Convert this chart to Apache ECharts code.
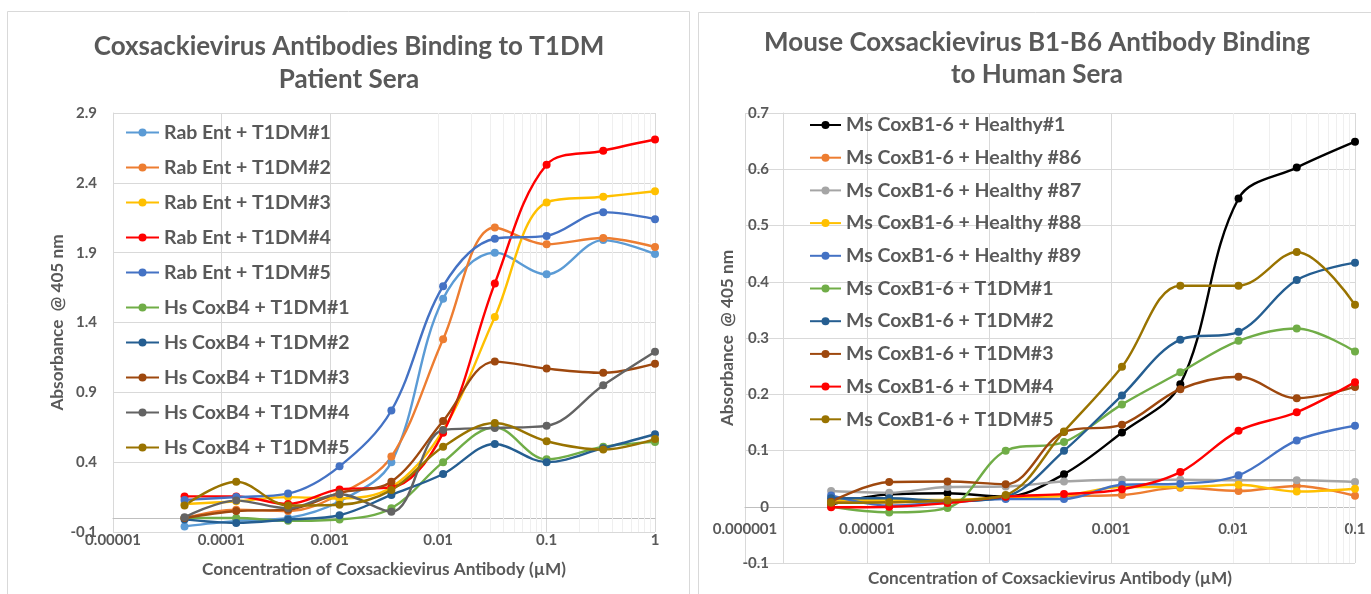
<!DOCTYPE html>
<html>
<head>
<meta charset="utf-8">
<script src="https://cdn.jsdelivr.net/npm/echarts@6/dist/echarts.min.js"></script>
<style>
  html, body { margin: 0; padding: 0; background: #fff; }
  #chart { width: 1371px; height: 594px; }
</style>
</head>
<body>
<div id="chart"></div>
<script>
// ---------- data ----------
const leftTitle1 = 'Coxsackievirus Antibodies Binding to T1DM';
const leftTitle2 = 'Patient Sera';
const rightTitle1 = 'Mouse Coxsackievirus B1-B6 Antibody Binding';
const rightTitle2 = 'to Human Sera';
const xAxisName = 'Concentration of Coxsackievirus Antibody (\u00b5M)';
const yAxisName = 'Absorbance  @ 405 nm';

const leftXTicks = ['0.00001', '0.0001', '0.001', '0.01', '0.1', '1'];
const rightXTicks = ['0.000001', '0.00001', '0.0001', '0.001', '0.01', '0.1'];

const leftConc = [0.0000457, 0.000137, 0.000412, 0.00123, 0.0037, 0.0111, 0.0333, 0.1, 0.333, 1];
const rightConc = [0.00000508, 0.0000152, 0.0000457, 0.000137, 0.000412, 0.00123, 0.0037, 0.0111, 0.0333, 0.1];

const leftNames = ['Rab Ent + T1DM#1', 'Rab Ent + T1DM#2', 'Rab Ent + T1DM#3', 'Rab Ent + T1DM#4', 'Rab Ent + T1DM#5',
  'Hs CoxB4 + T1DM#1', 'Hs CoxB4 + T1DM#2', 'Hs CoxB4 + T1DM#3', 'Hs CoxB4 + T1DM#4', 'Hs CoxB4 + T1DM#5'];
const leftColors = ['#5B9BD5', '#ED7D31', '#FFC000', '#FF0000', '#4472C4', '#70AD47', '#255E91', '#9E480E', '#636363', '#997300'];

const rabEnt1 = [-0.06, -0.02, 0.0, 0.12, 0.40, 1.57, 1.90, 1.745, 1.99, 1.89];
const rabEnt2 = [0.0, 0.06, 0.05, 0.17, 0.44, 1.28, 2.08, 1.96, 2.005, 1.94];
const rabEnt3 = [0.10, 0.12, 0.15, 0.14, 0.22, 0.63, 1.44, 2.26, 2.30, 2.34];
const rabEnt4 = [0.155, 0.155, 0.10, 0.205, 0.22, 0.61, 1.68, 2.53, 2.63, 2.71];
const rabEnt5 = [0.13, 0.15, 0.175, 0.37, 0.77, 1.66, 2.0, 2.02, 2.19, 2.14];
const hsCox1 = [0.0, 0.0, -0.02, -0.01, 0.07, 0.40, 0.65, 0.42, 0.51, 0.545];
const hsCox2 = [-0.01, -0.035, -0.01, 0.02, 0.165, 0.315, 0.53, 0.40, 0.50, 0.60];
const hsCox3 = [0.0, 0.05, 0.06, 0.18, 0.26, 0.695, 1.12, 1.07, 1.04, 1.105];
const hsCox4 = [0.005, 0.125, 0.07, 0.17, 0.045, 0.63, 0.645, 0.66, 0.95, 1.19];
const hsCox5 = [0.09, 0.26, 0.09, 0.095, 0.20, 0.51, 0.68, 0.55, 0.49, 0.565];
const leftValues = [rabEnt1, rabEnt2, rabEnt3, rabEnt4, rabEnt5, hsCox1, hsCox2, hsCox3, hsCox4, hsCox5];

const rightNames = ['Ms CoxB1-6 + Healthy#1', 'Ms CoxB1-6 + Healthy #86', 'Ms CoxB1-6 + Healthy #87', 'Ms CoxB1-6 + Healthy #88',
  'Ms CoxB1-6 + Healthy #89', 'Ms CoxB1-6 + T1DM#1', 'Ms CoxB1-6 + T1DM#2', 'Ms CoxB1-6 + T1DM#3', 'Ms CoxB1-6 + T1DM#4', 'Ms CoxB1-6 + T1DM#5'];
const rightColors = ['#000000', '#ED7D31', '#A5A5A5', '#FFC000', '#4472C4', '#70AD47', '#255E91', '#9E480E', '#FF0000', '#997300'];

const healthy1 = [0.004, 0.022, 0.024, 0.018, 0.058, 0.132, 0.218, 0.548, 0.603, 0.649];
const healthy86 = [0.008, 0.008, 0.010, 0.015, 0.019, 0.021, 0.034, 0.028, 0.037, 0.0195];
const healthy87 = [0.028, 0.025, 0.035, 0.036, 0.045, 0.048, 0.048, 0.047, 0.047, 0.044];
const healthy88 = [0.012, 0.012, 0.012, 0.017, 0.020, 0.035, 0.035, 0.039, 0.027, 0.032];
const healthy89 = [0.020, 0.002, 0.008, 0.0136, 0.0136, 0.039, 0.041, 0.056, 0.118, 0.144];
const msT1dm1 = [0.0, -0.010, -0.002, 0.0995, 0.115, 0.182, 0.239, 0.295, 0.317, 0.276];
const msT1dm2 = [0.015, 0.015, 0.010, 0.018, 0.0995, 0.198, 0.297, 0.311, 0.403, 0.434];
const msT1dm3 = [0.009, 0.044, 0.045, 0.040, 0.133, 0.146, 0.209, 0.231, 0.193, 0.213];
const msT1dm4 = [-0.001, 0.0, 0.0065, 0.018, 0.0225, 0.031, 0.0616, 0.135, 0.168, 0.2215];
const msT1dm5 = [0.007, 0.008, 0.011, 0.021, 0.134, 0.249, 0.393, 0.393, 0.453, 0.359];
const rightValues = [healthy1, healthy86, healthy87, healthy88, healthy89, msT1dm1, msT1dm2, msT1dm3, msT1dm4, msT1dm5];

// ---------- styling ----------
const FONT = "Lato, 'Open Sans', sans-serif";
const TXT = '#595959';
const GRID = '#d9d9d9';
const MINOR = '#efefef';
const AXIS = '#bfbfbf';

function minorGrid(minExp, maxExp) {
  const out = [];
  for (let e = minExp; e < maxExp; e++) {
    for (let m = 2; m <= 9; m++) out.push({ xAxis: m * Math.pow(10, e) });
  }
  return out;
}
function logTickLabel(ticks, minExp) {
  return function (v) {
    const i = Math.round(Math.log10(v)) - minExp;
    return ticks[i] !== undefined ? ticks[i] : '';
  };
}
function yFmt(v) { return String(Math.round(v * 10) / 10); }

const series = [];
series.push({
  type: 'line', xAxisIndex: 0, yAxisIndex: 0, data: [], silent: true,
  markLine: { silent: true, z: 1, symbol: ['none', 'none'], label: { show: false }, animation: false,
    lineStyle: { color: MINOR, width: 1, type: 'solid' }, data: minorGrid(-5, 0) }
});
series.push({
  type: 'line', xAxisIndex: 1, yAxisIndex: 1, data: [], silent: true,
  markLine: { silent: true, z: 1, symbol: ['none', 'none'], label: { show: false }, animation: false,
    lineStyle: { color: MINOR, width: 1, type: 'solid' }, data: minorGrid(-6, -1) }
});
leftNames.forEach((n, i) => {
  series.push({
    name: n, type: 'line', xAxisIndex: 0, yAxisIndex: 0, smooth: 0.35,
    symbol: 'circle', symbolSize: 8, showSymbol: true,
    lineStyle: { width: 2.4, color: leftColors[i] }, itemStyle: { color: leftColors[i] },
    data: leftConc.map((x, j) => [x, leftValues[i][j]])
  });
});
rightNames.forEach((n, i) => {
  series.push({
    name: n, type: 'line', xAxisIndex: 1, yAxisIndex: 1, smooth: 0.35,
    symbol: 'circle', symbolSize: 8, showSymbol: true,
    lineStyle: { width: 2.4, color: rightColors[i] }, itemStyle: { color: rightColors[i] },
    data: rightConc.map((x, j) => [x, rightValues[i][j]])
  });
});

const titleStyle = { fill: TXT, font: 'bold 26px ' + FONT, textAlign: 'center', textVerticalAlign: 'middle' };
const legendText = { fontFamily: FONT, fontSize: 19.5, fontWeight: 'bold', color: TXT, lineHeight: 20 };
const tickText = { color: TXT, fontFamily: FONT, fontSize: 15, fontWeight: 'bold' };
const nameText = { color: TXT, fontFamily: FONT, fontSize: 17.2, fontWeight: 'bold' };

const option = {
  animation: false,
  backgroundColor: '#ffffff',
  graphic: [
    { type: 'rect', shape: { x: 7.5, y: 11.5, width: 682, height: 600 }, style: { fill: 'none', stroke: '#d9d9d9', lineWidth: 1 }, silent: true },
    { type: 'rect', shape: { x: 698.5, y: 12.5, width: 700, height: 600 }, style: { fill: 'none', stroke: '#d9d9d9', lineWidth: 1 }, silent: true },
    { type: 'text', x: 349, y: 47, style: Object.assign({ text: leftTitle1 }, titleStyle), silent: true },
    { type: 'text', x: 349, y: 80, style: Object.assign({ text: leftTitle2 }, titleStyle), silent: true },
    { type: 'text', x: 1037, y: 43, style: Object.assign({ text: rightTitle1 }, titleStyle), silent: true },
    { type: 'text', x: 1037, y: 75, style: Object.assign({ text: rightTitle2 }, titleStyle), silent: true }
  ],
  legend: [
    { data: leftNames, orient: 'vertical', left: 120, top: 117.5, itemWidth: 33, itemHeight: 10, itemGap: 15,
      textStyle: legendText, selectedMode: false },
    { data: rightNames, orient: 'vertical', left: 804, top: 110, itemWidth: 31, itemHeight: 10, itemGap: 12.7,
      textStyle: legendText, selectedMode: false }
  ],
  grid: [
    { left: 113, top: 113, width: 542, height: 419, outerBoundsMode: 'none', containLabel: false },
    { left: 745, top: 113, width: 610, height: 450, outerBoundsMode: 'none', containLabel: false }
  ],
  xAxis: [
    { type: 'log', gridIndex: 0, logBase: 10, min: 0.00001, max: 1,
      axisLine: { show: true, onZero: true, lineStyle: { color: AXIS, width: 1 } },
      axisTick: { show: false },
      axisLabel: Object.assign({ margin: 1, showMinLabel: true, showMaxLabel: true,
        formatter: logTickLabel(leftXTicks, -5) }, tickText),
      splitLine: { show: true, lineStyle: { color: GRID, width: 1 } },
      name: xAxisName, nameLocation: 'middle', nameGap: 29, nameTextStyle: nameText },
    { type: 'log', gridIndex: 1, logBase: 10, min: 0.000001, max: 0.1,
      axisLine: { show: true, onZero: true, lineStyle: { color: AXIS, width: 1 } },
      axisTick: { show: false },
      axisLabel: Object.assign({ margin: -41, showMinLabel: true, showMaxLabel: true,
        formatter: logTickLabel(rightXTicks, -6) }, tickText),
      splitLine: { show: true, lineStyle: { color: GRID, width: 1 } },
      name: xAxisName, nameLocation: 'middle', nameGap: 7, nameTextStyle: nameText }
  ],
  yAxis: [
    { type: 'value', gridIndex: 0, min: -0.1, max: 2.9, interval: 0.5,
      axisLine: { show: true, lineStyle: { color: GRID } }, axisTick: { show: false },
      axisLabel: Object.assign({ margin: 16, formatter: yFmt }, tickText),
      splitLine: { show: true, lineStyle: { color: GRID, width: 1 } },
      name: yAxisName, nameLocation: 'middle', nameGap: 47, nameRotate: 90, nameTextStyle: nameText },
    { type: 'value', gridIndex: 1, min: -0.1, max: 0.7, interval: 0.1, offset: -38,
      axisLine: { show: true, lineStyle: { color: GRID } }, axisTick: { show: false },
      axisLabel: Object.assign({ margin: 14, formatter: yFmt }, tickText),
      splitLine: { show: true, lineStyle: { color: GRID, width: 1 } },
      name: yAxisName, nameLocation: 'middle', nameGap: 47, nameRotate: 90, nameTextStyle: nameText }
  ],
  series: series
};

const chart = echarts.init(document.getElementById('chart'), null, { renderer: 'canvas' });
chart.setOption(option);
</script>
</body>
</html>
